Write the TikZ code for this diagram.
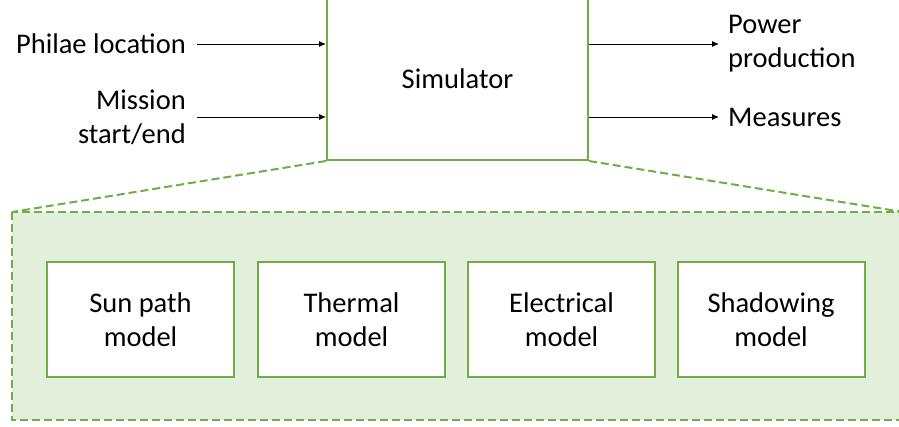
\documentclass[tikz,border=0pt]{standalone}
\usepackage{fontspec}
\setmainfont{Carlito}
\usetikzlibrary{arrows.meta}
\definecolor{grn}{HTML}{70AD47}
\definecolor{lgrn}{HTML}{E2EFDA}
\begin{document}
\begin{tikzpicture}[x=1pt,y=-1pt,
  every node/.style={font=\fontsize{28.5}{34}\selectfont, text=black},
  box/.style={draw=grn, line width=2pt, fill=white, minimum width=187pt, minimum height=115pt, align=center, inner sep=0pt},
  dsh/.style={draw=grn, line width=2pt, dash pattern=on 8pt off 4pt},
  arr/.style={draw=black, line width=0.9pt, -{Latex[length=7pt,width=6pt]}}]
\useasboundingbox (0,0) rectangle (899,426);
\clip (0,0) rectangle (899,426);
% container
\path[fill=lgrn, dsh] (12,212) rectangle (905,420);
\node[box, minimum width=261pt, minimum height=162pt] (sim) at (457.5,79) {Simulator};
\coordinate (cl) at (12,212);
\coordinate (cr) at (903,212);
\draw[dsh] (sim.south west) -- (cl);
\draw[dsh] (sim.south east) -- (cr);
% models
\node[box] (sun) at (140.5,319.5) {Sun path\\model};
\node[box] (therm) at (351.5,319.5) {Thermal\\model};
\node[box] (elec) at (561.5,319.5) {Electrical\\model};
\node[box] (shad) at (771,319.5) {Shadowing\\model};
% inputs
\node[anchor=east, inner sep=0pt] (phil) at (186,44) {Philae location};
\node[anchor=east, align=right, inner sep=0pt] (miss) at (186,117) {Mission\\start/end};
\draw[arr] ([xshift=11pt]phil.east) -- (sim.west |- phil.east);
\draw[arr] ([xshift=11pt]miss.east) -- (sim.west |- miss.east);
% outputs
\node[anchor=west, align=left, inner sep=0pt] (pow) at (728,44) {Power\\production};
\node[anchor=west, inner sep=0pt] (meas) at (728,117) {Measures};
\draw[arr] (sim.east |- pow.west) -- ([xshift=-9pt]pow.west);
\draw[arr] (sim.east |- meas.west) -- ([xshift=-9pt]meas.west);
\end{tikzpicture}
\end{document}
